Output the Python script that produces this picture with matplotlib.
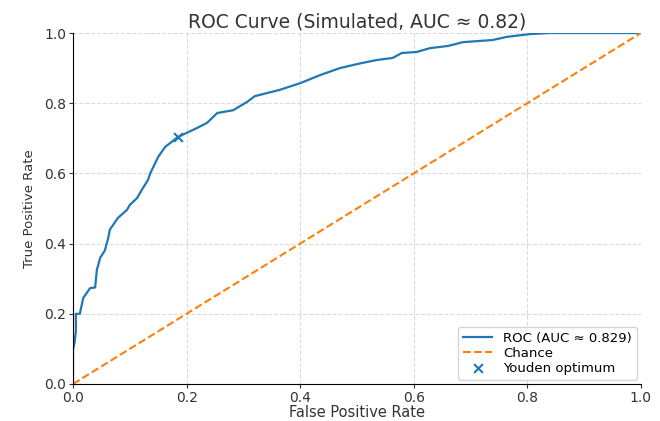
import matplotlib
matplotlib.use("Agg")
import matplotlib.pyplot as plt

fpr = [0.0, 0.0, 0.003, 0.005, 0.005, 0.012, 0.018, 0.03, 0.039, 0.042, 0.048, 0.056,
       0.062, 0.065, 0.079, 0.095, 0.10, 0.113, 0.121, 0.132, 0.136, 0.15, 0.162, 0.185,
       0.218, 0.236, 0.254, 0.282, 0.306, 0.32, 0.364, 0.40, 0.435, 0.47, 0.51, 0.535,
       0.563, 0.579, 0.605, 0.629, 0.66, 0.687, 0.739, 0.764, 0.805, 0.84, 1.0]
tpr = [0.0, 0.097, 0.12, 0.15, 0.20, 0.20, 0.245, 0.273, 0.275, 0.325, 0.36, 0.38,
       0.416, 0.44, 0.473, 0.496, 0.51, 0.53, 0.553, 0.581, 0.60, 0.647, 0.675, 0.704,
       0.729, 0.744, 0.772, 0.78, 0.803, 0.82, 0.838, 0.857, 0.88, 0.90, 0.915, 0.923,
       0.929, 0.943, 0.946, 0.957, 0.963, 0.974, 0.98, 0.989, 0.997, 1.0, 1.0]
chance = [0.0, 1.0]
youden_fpr = 0.185
youden_tpr = 0.704
auc_label = "ROC (AUC ≈ 0.829)"
title = "ROC Curve (Simulated, AUC ≈ 0.82)"

fig = plt.figure(figsize=(6.6, 4.21), dpi=100)
ax = fig.add_axes([0.1106, 0.0879, 0.8604, 0.8337])

ax.plot(fpr, tpr, color="#1f77b4", lw=1.6, label=auc_label)
ax.plot(chance, chance, color="#ff7f0e", lw=1.5, ls="--", label="Chance")
ax.scatter([youden_fpr], [youden_tpr], marker="x", color="#1f77b4", s=40,
           linewidths=1.5, zorder=3, label="Youden optimum")

ax.set_xlim(0, 1)
ax.set_ylim(0, 1)
ax.set_xticks([0, 0.2, 0.4, 0.6, 0.8, 1.0])
ax.set_yticks([0, 0.2, 0.4, 0.6, 0.8, 1.0])
ax.grid(True, ls="--", color="#cccccc", lw=0.8, alpha=0.7)
ax.spines["top"].set_visible(False)
ax.spines["right"].set_visible(False)
ax.tick_params(labelsize=10, colors="#333333", pad=2, length=3)
ax.set_xlabel("False Positive Rate", fontsize=10.5, color="#333333", labelpad=0)
ax.set_ylabel("True Positive Rate", fontsize=9.5, color="#333333", labelpad=6)
ax.set_title(title, fontsize=13.5, color="#333333", pad=4)
ax.legend(loc="lower right", fontsize=9.5, framealpha=0.8, borderaxespad=0.3,
          handlelength=2.2, labelspacing=0.15)

fig.savefig("out.png", dpi=100)
